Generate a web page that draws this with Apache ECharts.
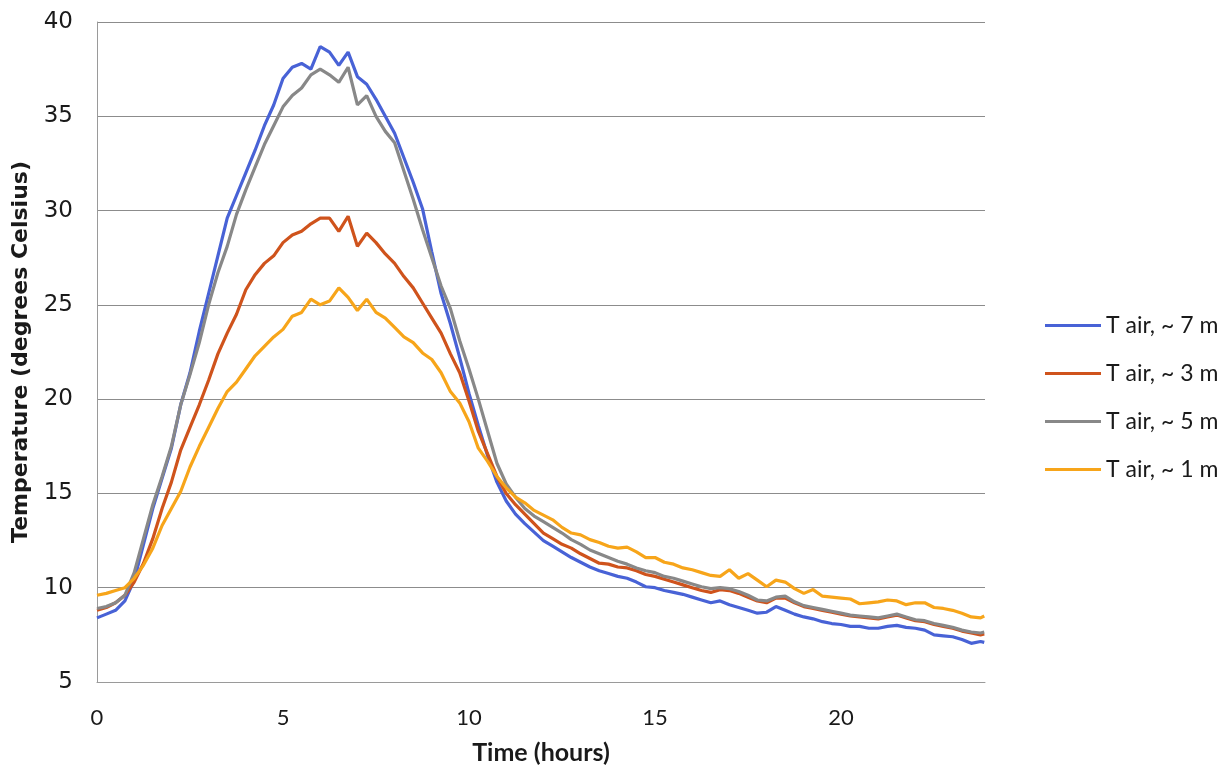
<!DOCTYPE html>
<html>
<head>
<meta charset="utf-8">
<script src="https://cdn.jsdelivr.net/npm/echarts@6/dist/echarts.min.js"></script>
<style>
  html, body { margin: 0; padding: 0; background: #ffffff; }
  #chart { width: 1230px; height: 770px; }
</style>
</head>
<body>
<div id="chart"></div>
<script>
// Time of day, hours
const hours = [
  0, 0.25, 0.5, 0.75, 1, 1.25, 1.5, 1.75, 2, 2.25, 2.5, 2.75,
  3, 3.25, 3.5, 3.75, 4, 4.25, 4.5, 4.75, 5, 5.25, 5.5, 5.75,
  6, 6.25, 6.5, 6.75, 7, 7.25, 7.5, 7.75, 8, 8.25, 8.5, 8.75,
  9, 9.25, 9.5, 9.75, 10, 10.25, 10.5, 10.75, 11, 11.25, 11.5, 11.75,
  12, 12.25, 12.5, 12.75, 13, 13.25, 13.5, 13.75, 14, 14.25, 14.5, 14.75,
  15, 15.25, 15.5, 15.75, 16, 16.25, 16.5, 16.75, 17, 17.25, 17.5, 17.75,
  18, 18.25, 18.5, 18.75, 19, 19.25, 19.5, 19.75, 20, 20.25, 20.5, 20.75,
  21, 21.25, 21.5, 21.75, 22, 22.25, 22.5, 22.75, 23, 23.25, 23.5, 23.75, 23.85
];

// Air temperature at ~7 m
const tAir7m = [
  8.4, 8.6, 8.8, 9.3, 10.4, 12.3, 14.2, 15.8, 17.4, 19.7, 21.4, 23.6,
  25.6, 27.6, 29.6, 30.8, 32.0, 33.2, 34.5, 35.6, 37.0, 37.6, 37.8, 37.5,
  38.7, 38.4, 37.7, 38.4, 37.1, 36.7, 35.9, 35.0, 34.1, 32.8, 31.5, 30.1,
  27.8, 25.6, 24.0, 22.2, 20.3, 18.6, 17.0, 15.6, 14.6, 13.9, 13.4, 12.95,
  12.5, 12.2, 11.9, 11.6, 11.35, 11.1, 10.9, 10.75, 10.6, 10.5, 10.3, 10.05,
  10.0, 9.85, 9.75, 9.65, 9.5, 9.35, 9.2, 9.3, 9.1, 8.95, 8.8, 8.65,
  8.7, 9.0, 8.8, 8.6, 8.45, 8.35, 8.2, 8.1, 8.05, 7.95, 7.95, 7.85,
  7.85, 7.95, 8.0, 7.9, 7.85, 7.75, 7.5, 7.45, 7.4, 7.25, 7.05, 7.15, 7.1
];

// Air temperature at ~3 m
const tAir3m = [
  8.8, 8.95, 9.2, 9.6, 10.3, 11.3, 12.6, 14.2, 15.6, 17.3, 18.5, 19.7,
  21.0, 22.4, 23.5, 24.5, 25.8, 26.6, 27.2, 27.6, 28.3, 28.7, 28.9, 29.3,
  29.6, 29.6, 28.9, 29.7, 28.1, 28.8, 28.3, 27.7, 27.2, 26.5, 25.9, 25.1,
  24.3, 23.5, 22.4, 21.4, 19.9, 18.3, 17.1, 15.9, 15.0, 14.4, 13.9, 13.4,
  12.9, 12.6, 12.3, 12.1, 11.8, 11.55, 11.3, 11.25, 11.1, 11.05, 10.9, 10.7,
  10.6, 10.45, 10.3, 10.15, 10.0, 9.85, 9.75, 9.9, 9.85, 9.7, 9.5, 9.3,
  9.2, 9.45, 9.45, 9.2, 9.0, 8.9, 8.8, 8.7, 8.6, 8.5, 8.45, 8.4,
  8.35, 8.45, 8.55, 8.4, 8.25, 8.2, 8.05, 7.95, 7.85, 7.7, 7.6, 7.5, 7.55
];

// Air temperature at ~5 m
const tAir5m = [
  8.9, 9.0, 9.2, 9.6, 10.8, 12.6, 14.4, 15.9, 17.5, 19.7, 21.3, 23.0,
  25.0, 26.7, 28.1, 29.8, 31.1, 32.3, 33.5, 34.5, 35.5, 36.1, 36.5, 37.2,
  37.5, 37.2, 36.8, 37.6, 35.6, 36.1, 35.0, 34.2, 33.6, 32.1, 30.6, 29.0,
  27.5, 26.0, 24.8, 23.1, 21.6, 20.0, 18.3, 16.6, 15.5, 14.8, 14.2, 13.8,
  13.5, 13.2, 12.9, 12.55, 12.3, 12.0, 11.8, 11.6, 11.4, 11.25, 11.05, 10.9,
  10.8, 10.6, 10.5, 10.35, 10.2, 10.05, 9.95, 10.0, 9.95, 9.8, 9.6, 9.35,
  9.3, 9.5, 9.55, 9.25, 9.05, 8.95, 8.85, 8.75, 8.65, 8.55, 8.5, 8.45,
  8.4, 8.5, 8.6, 8.45, 8.3, 8.25, 8.1, 8.0, 7.9, 7.75, 7.65, 7.6, 7.65
];

// Air temperature at ~1 m
const tAir1m = [
  9.6, 9.7, 9.85, 10.0, 10.5, 11.2, 12.1, 13.3, 14.2, 15.1, 16.4, 17.5,
  18.5, 19.5, 20.4, 20.9, 21.6, 22.3, 22.8, 23.3, 23.7, 24.4, 24.6, 25.3,
  25.0, 25.2, 25.9, 25.4, 24.7, 25.3, 24.6, 24.3, 23.8, 23.3, 23.0, 22.45,
  22.1, 21.4, 20.4, 19.8, 18.8, 17.4, 16.7, 15.9, 15.3, 14.8, 14.5, 14.1,
  13.85, 13.6, 13.2, 12.9, 12.8, 12.55, 12.4, 12.2, 12.1, 12.15, 11.9, 11.6,
  11.6, 11.35, 11.25, 11.05, 10.95, 10.8, 10.65, 10.6, 10.95, 10.5, 10.75, 10.4,
  10.05, 10.4, 10.3, 9.95, 9.7, 9.9, 9.55, 9.5, 9.45, 9.4, 9.15, 9.2,
  9.25, 9.35, 9.3, 9.1, 9.2, 9.2, 8.95, 8.9, 8.8, 8.65, 8.45, 8.4, 8.5
];

const seriesNames = ['T air, ~ 7 m', 'T air, ~ 3 m', 'T air, ~ 5 m', 'T air, ~ 1 m'];
const seriesValues = [tAir7m, tAir3m, tAir5m, tAir1m];
const seriesColors = ['#4862d6', '#cf531c', '#888888', '#f7a51a'];

const yTicks = [5, 10, 15, 20, 25, 30, 35, 40];

const chart = echarts.init(document.getElementById('chart'), null, { renderer: 'canvas' });

chart.setOption({
  backgroundColor: '#ffffff',
  animation: false,
  grid: {
    left: 97, top: 22, right: 245, bottom: 88,
    containLabel: false,
    outerBoundsMode: 'none'
  },
  legend: {
    orient: 'vertical',
    left: 1040,
    top: 309,
    icon: 'rect',
    itemWidth: 56,
    itemHeight: 3,
    itemGap: 25,
    data: seriesNames,
    textStyle: { fontFamily: 'Lato', fontSize: 23, color: '#1a1a1a' }
  },
  xAxis: {
    type: 'value',
    min: 0,
    max: 23.87,
    interval: 5,
    name: 'Time (hours)',
    nameLocation: 'middle',
    nameGap: 58,
    nameTextStyle: { fontFamily: 'Lato', fontSize: 25, fontWeight: 'bold', color: '#1a1a1a' },
    axisLine: { show: true, lineStyle: { color: '#9a9a9a', width: 1 } },
    axisTick: { show: false },
    splitLine: { show: false },
    axisLabel: {
      margin: 25,
      showMaxLabel: false,
      fontFamily: 'Lato',
      fontSize: 22,
      color: '#1a1a1a'
    }
  },
  yAxis: {
    type: 'value',
    min: yTicks[0],
    max: yTicks[yTicks.length - 1],
    interval: 5,
    name: 'Temperature (degrees Celsius)',
    nameLocation: 'middle',
    nameRotate: 90,
    nameGap: 65,
    nameTextStyle: { fontFamily: 'DejaVu Sans', fontSize: 22, fontWeight: 'bold', color: '#1a1a1a' },
    axisLine: { show: true, lineStyle: { color: '#9a9a9a', width: 1 } },
    axisTick: { show: false },
    splitLine: { show: true, lineStyle: { color: '#8c8c8c', width: 1 } },
    axisLabel: {
      margin: 24,
      fontFamily: 'DejaVu Sans',
      fontSize: 23,
      color: '#1a1a1a'
    }
  },
  series: seriesNames.map((name, k) => ({
    name: name,
    type: 'line',
    showSymbol: false,
    symbol: 'none',
    data: hours.map((t, i) => [t, seriesValues[k][i]]),
    lineStyle: { color: seriesColors[k], width: 3.2 },
    itemStyle: { color: seriesColors[k] }
  }))
});
</script>
</body>
</html>
